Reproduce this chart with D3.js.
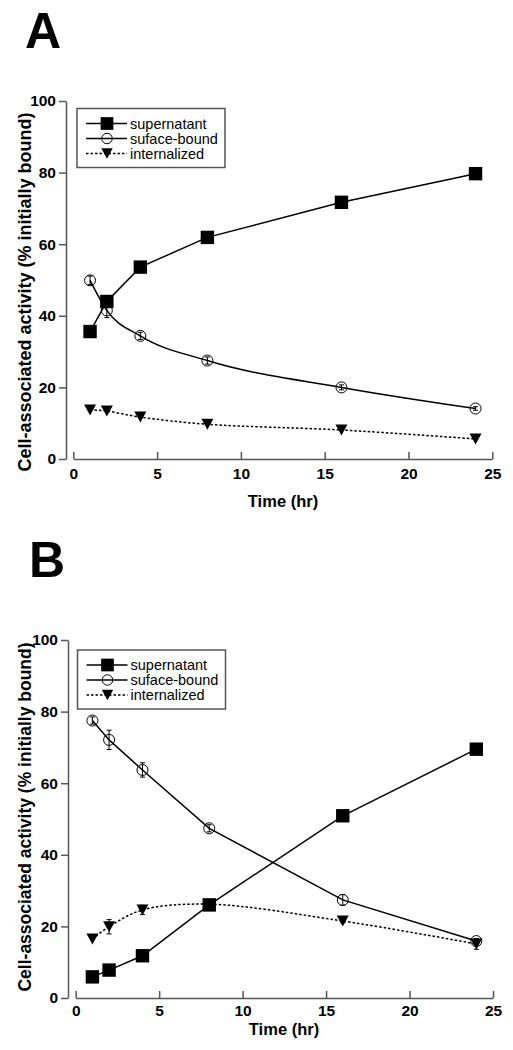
<!DOCTYPE html>
<html>
<head>
<meta charset="utf-8">
<script src="https://cdn.jsdelivr.net/npm/d3@7"></script>
<style>
  html, body { margin: 0; padding: 0; background: #fff; }
  svg { display: block; font-family: "Liberation Sans", Arial, sans-serif; }
</style>
</head>
<body>
<svg id="chart" width="513" height="1050"></svg>
<script>
// ---- data ----
const times = [1, 2, 4, 8, 16, 24];
const seriesNames = ["supernatant", "suface-bound", "internalized"];
const xTicks = [0, 5, 10, 15, 20, 25];
const yTicks = [0, 20, 40, 60, 80, 100];
const xLabel = "Time (hr)";
const yLabel = "Cell-associated activity (% initially bound)";

// Panel A
const supernatantA = [35.6, 44.0, 53.6, 61.9, 71.7, 79.7];
const supernatantErrA = [0, 0, 0, 0, 0, 0];
const surfaceA = [49.9, 41.5, 34.4, 27.5, 20.0, 14.1];
const surfaceErrA = [1.2, 2.0, 1.0, 1.0, 0.7, 0.5];
const internalA = [13.7, 13.4, 11.7, 9.7, 8.1, 5.6];
const internalErrA = [0, 0, 0, 0, 0, 0];

// Panel B
const supernatantB = [5.9, 7.8, 11.8, 26.0, 50.9, 69.5];
const supernatantErrB = [0, 0, 0, 0, 0, 0];
const surfaceB = [77.5, 72.1, 63.7, 47.4, 27.4, 15.9];
const surfaceErrB = [1.0, 2.7, 2.0, 1.0, 1.5, 0.5];
const internalB = [16.5, 19.9, 24.6, 26.2, 21.5, 15.1];
const internalErrB = [0, 2.0, 1.3, 0, 0.5, 1.5];

// ---- drawing ----
const svg = d3.select("#chart");
const AXIS = "#555";

function drawPanel(cfg) {
  const g = svg.append("g");
  const x = d3.scaleLinear().domain([0, 25]).range(cfg.xRange);
  const y = d3.scaleLinear().domain([0, 100]).range(cfg.yRange);

  // panel letter
  g.append("text").attr("x", cfg.titleX).attr("y", cfg.titleY)
    .attr("font-size", 50).attr("font-weight", "bold").text(cfg.title);

  // y axis
  const yAx = g.append("g").attr("transform", `translate(${cfg.yAxisX},0)`)
    .call(d3.axisLeft(y).tickValues(yTicks).tickSize(7).tickSizeOuter(0).tickPadding(3));
  // x axis
  const xAx = g.append("g").attr("transform", `translate(0,${cfg.xAxisY})`)
    .call(d3.axisBottom(x).tickValues(xTicks).tickSize(-7).tickSizeOuter(0).tickPadding(cfg.xPad));
  [yAx, xAx].forEach(a => {
    a.select(".domain").attr("stroke", AXIS).attr("stroke-width", 1.5);
    a.selectAll(".tick line").attr("stroke", AXIS).attr("stroke-width", 1.5);
    a.selectAll(".tick text").attr("fill", "#000").attr("font-size", 15.5)
      .attr("font-weight", "bold").attr("font-family", "Liberation Sans, Arial, sans-serif");
  });

  // axis titles
  g.append("text").attr("x", cfg.xLabelX).attr("y", cfg.xLabelY)
    .attr("text-anchor", "middle").attr("font-size", 16.5).attr("font-weight", "bold").text(xLabel);
  g.append("text").attr("transform", `translate(${cfg.yLabelX},${cfg.yLabelY}) rotate(-90)`)
    .attr("text-anchor", "middle").attr("font-size", cfg.yLabelSize).attr("font-weight", "bold").text(yLabel);

  const series = [
    { vals: cfg.sup, err: cfg.supErr, marker: "square", dash: null, curve: d3.curveLinear },
    { vals: cfg.surf, err: cfg.surfErr, marker: "circle", dash: null, curve: cfg.surfCurve },
    { vals: cfg.intl, err: cfg.intlErr, marker: "triangle", dash: "2.5,2", curve: d3.curveCatmullRom }
  ];

  // lines
  series.forEach(s => {
    const pts = times.map((t, i) => [t, s.vals[i]]);
    g.append("path").datum(pts)
      .attr("d", d3.line().x(d => x(d[0])).y(d => y(d[1])).curve(s.curve))
      .attr("fill", "none").attr("stroke", "#000").attr("stroke-width", 1.5)
      .attr("stroke-dasharray", s.dash);
  });

  // error bars
  series.forEach(s => {
    times.forEach((t, i) => {
      const e = s.err[i];
      if (!e) return;
      const cx = x(t), y1 = y(s.vals[i] - e), y2 = y(s.vals[i] + e);
      g.append("line").attr("x1", cx).attr("x2", cx).attr("y1", y1).attr("y2", y2)
        .attr("stroke", "#000").attr("stroke-width", 1);
      [y1, y2].forEach(yy => g.append("line").attr("x1", cx - 2.5).attr("x2", cx + 2.5)
        .attr("y1", yy).attr("y2", yy).attr("stroke", "#000").attr("stroke-width", 1));
    });
  });

  function marker(sel, type, cx, cy, scale) {
    if (type === "square") {
      const h = 6.7 * scale;
      sel.append("rect").attr("x", cx - h).attr("y", cy - h).attr("width", 2 * h).attr("height", 2 * h).attr("fill", "#000");
    } else if (type === "circle") {
      sel.append("circle").attr("cx", cx).attr("cy", cy).attr("r", 5.5 * scale)
        .attr("fill", "none").attr("stroke", "#000").attr("stroke-width", 1);
    } else {
      const w = 6 * scale, h = 5.5 * scale;
      sel.append("path").attr("d", `M${cx - w},${cy - h}L${cx + w},${cy - h}L${cx},${cy + h}Z`).attr("fill", "#000");
    }
  }

  // markers
  series.forEach(s => times.forEach((t, i) => marker(g, s.marker, x(t), y(s.vals[i]), 1)));

  // legend
  const L = cfg.legend;
  g.append("rect").attr("x", L.x).attr("y", L.y).attr("width", L.w).attr("height", L.h)
    .attr("fill", "#fff").attr("stroke", AXIS).attr("stroke-width", 1.5);
  series.forEach((s, i) => {
    const cy = L.y + 15 + i * 15;
    g.append("line").attr("x1", L.x + 9).attr("x2", L.x + 50).attr("y1", cy).attr("y2", cy)
      .attr("stroke", "#000").attr("stroke-width", 1.5).attr("stroke-dasharray", s.dash);
    marker(g, s.marker, L.x + 30, cy, 0.95);
    g.append("text").attr("x", L.x + 53).attr("y", cy + 5).attr("font-size", 14.5).text(seriesNames[i]);
  });
}

drawPanel({
  title: "A", titleX: 25, titleY: 48,
  xRange: [73.3, 492.3], yRange: [459, 101], yAxisX: 66, xAxisY: 459, xPad: 9,
  xLabelX: 283, xLabelY: 507, yLabelX: 31, yLabelY: 292, yLabelSize: 18,
  sup: supernatantA, supErr: supernatantErrA, surf: surfaceA, surfErr: surfaceErrA,
  intl: internalA, intlErr: internalErrA, surfCurve: d3.curveMonotoneX,
  legend: { x: 77, y: 108.5, w: 148, h: 59 }
});

drawPanel({
  title: "B", titleX: 29, titleY: 577,
  xRange: [75.7, 493], yRange: [998, 640], yAxisX: 68, xAxisY: 998, xPad: 7,
  xLabelX: 284, xLabelY: 1035, yLabelX: 31, yLabelY: 817, yLabelSize: 17.5,
  sup: supernatantB, supErr: supernatantErrB, surf: surfaceB, surfErr: surfaceErrB,
  intl: internalB, intlErr: internalErrB, surfCurve: d3.curveLinear,
  legend: { x: 77.5, y: 650, w: 148, h: 59 }
});
</script>
</body>
</html>
